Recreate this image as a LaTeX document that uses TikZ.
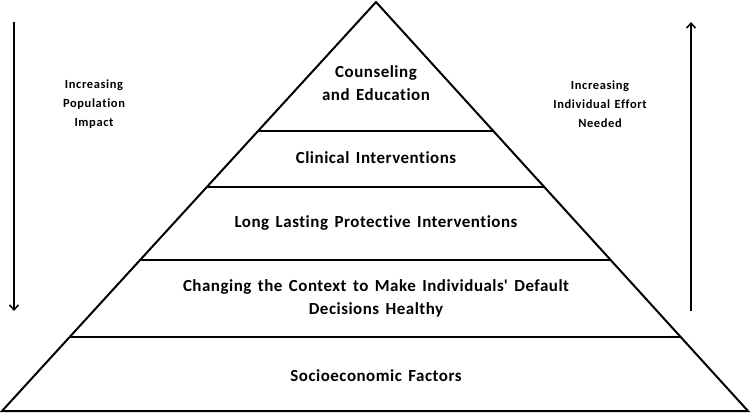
\documentclass[tikz,border=0pt]{standalone}
\usepackage{fontspec}
\setmainfont{Carlito}
\newfontfamily\tierfont{Carlito}[LetterSpace=3,WordSpace=1.5,Ligatures={NoCommon}]
\newfontfamily\sidefont{Carlito}[LetterSpace=5,WordSpace=1.3,Ligatures={NoCommon}]
\usetikzlibrary{arrows.meta}
\begin{document}
\begin{tikzpicture}[x=1bp,y=-1bp,
  edge/.style={line width=2bp,line join=miter},
  tier/.style={font=\tierfont\bfseries\fontsize{17}{23}\selectfont,align=center,inner sep=0pt},
  side/.style={font=\sidefont\bfseries\fontsize{12.5}{19}\selectfont,align=center,inner sep=0pt},
  flow/.style={line width=1.5bp,-{Straight Barb[length=5bp,width=9bp]}}]
\useasboundingbox (0,0) rectangle (750,414);
\coordinate (apex) at (376,2);
\coordinate (bl) at (2,411);
\coordinate (br) at (748,411);
\draw[edge] (apex) -- (bl) -- (br) -- cycle;
\foreach \yy/\nm in {131/a,187/b,260/c,337/d}{
  \path (apex) -- (bl) coordinate[pos={(\yy-2)/409}] (L\nm);
  \path (apex) -- (br) coordinate[pos={(\yy-2)/409}] (R\nm);
  \draw[edge] (L\nm) -- (R\nm);
}
\node[tier] (t1) at (376,83) {Counseling\\and Education};
\node[tier] (t2) at (376,158) {Clinical Interventions};
\node[tier] (t3) at (376,223) {Long Lasting Protective Interventions};
\node[tier] (t4) at (376,298) {Changing the Context to Make Individuals\textquotesingle{} Default\\Decisions Healthy};
\node[tier] (t5) at (376,376) {Socioeconomic Factors};
\node[side] (ls) at (94,104) {Increasing\\Population\\Impact};
\node[side] (rs) at (600,104) {Increasing\\Individual Effort\\Needed};
\coordinate (la1) at (14,22);
\coordinate (la2) at (14,311);
\coordinate (ra1) at (691,311);
\coordinate (ra2) at (691,22);
\draw[flow] (la1) -- (la2);
\draw[flow] (ra1) -- (ra2);
\end{tikzpicture}
\end{document}
